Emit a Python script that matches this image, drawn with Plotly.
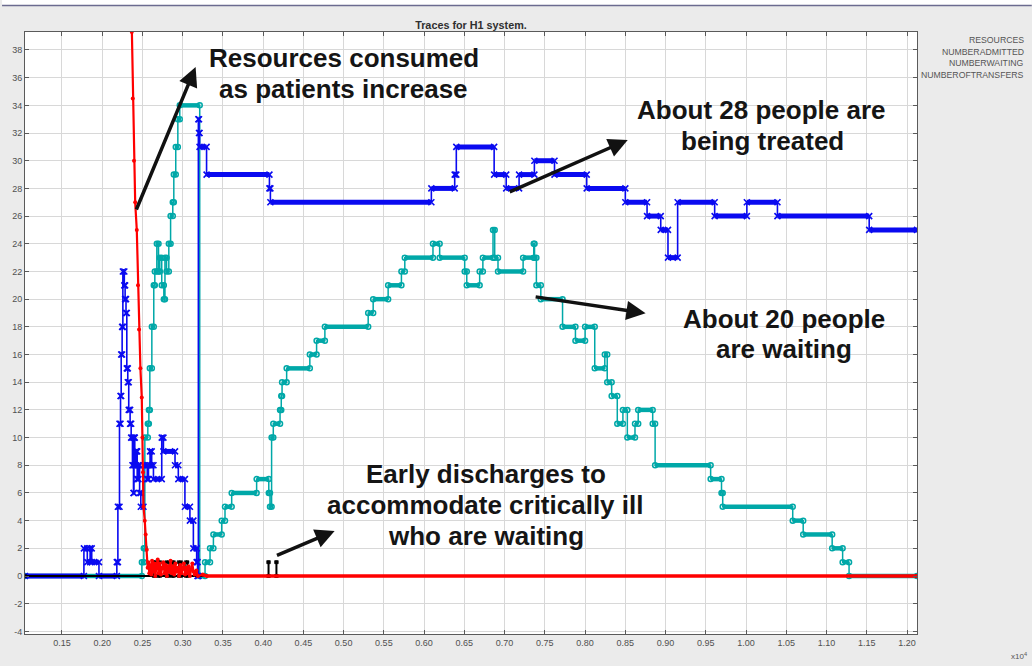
import plotly.graph_objects as go

# ---------------- data ----------------
series_names = ["RESOURCES", "NUMBERADMITTED", "NUMBERWAITING", "NUMBEROFTRANSFERS"]

# NUMBERADMITTED (blue) step series: value holds from x[i] until x[i+1]
admitted_x = [0.1041, 0.1773, 0.1815, 0.1850, 0.1870, 0.1960, 0.2182, 0.2195, 0.2215, 0.2228,
              0.2236, 0.2248, 0.2257, 0.2275, 0.2285, 0.2296, 0.2306, 0.2318, 0.2330, 0.2347,
              0.2360, 0.2376, 0.2389, 0.2395, 0.2405, 0.2420, 0.2435, 0.2450, 0.2465, 0.2480,
              0.2513, 0.2560, 0.2575, 0.2595, 0.2615, 0.2637, 0.2740, 0.2761, 0.2905, 0.2946,
              0.3028, 0.3090, 0.3133, 0.3174, 0.3185, 0.3195, 0.3203, 0.3210, 0.3297, 0.4078,
              0.4090, 0.6090, 0.6380, 0.6400, 0.6870, 0.7020, 0.7180, 0.7370, 0.7620, 0.8020,
              0.8500, 0.8770, 0.8940, 0.9030, 0.9150, 0.9610, 1.0010, 1.0390, 1.1530, 1.2124]
admitted_y = [0, 2, 1, 2, 1, 0, 1, 5, 11, 13,
              16, 18, 22, 21, 20, 19, 15, 14, 12, 11,
              10, 8, 6, 10, 8, 9, 7, 8, 6, 5,
              8, 7, 8, 9, 8, 7, 10, 9, 8, 7,
              5, 4, 2, 1, 0, 33, 32, 31, 29, 28,
              27, 28, 29, 31, 29, 28, 29, 30, 29, 28,
              27, 26, 25, 23, 27, 26, 27, 26, 25, 25]

# NUMBERWAITING (teal) step series
waiting_x = [0.1041, 0.2493, 0.2517, 0.2530, 0.2567, 0.2580, 0.2592, 0.2617, 0.2641, 0.2654,
             0.2679, 0.2700, 0.2716, 0.2740, 0.2766, 0.2780, 0.2800, 0.2828, 0.2850, 0.2877,
             0.2890, 0.2914, 0.2940, 0.2964, 0.3212, 0.3278, 0.3340, 0.3382, 0.3485, 0.3526,
             0.3609, 0.3919, 0.4070, 0.4085, 0.4105, 0.4126, 0.4210, 0.4225, 0.4235, 0.4292,
             0.4580, 0.4664, 0.4767, 0.5305, 0.5367, 0.5553, 0.5718, 0.5760, 0.6110, 0.6193,
             0.6504, 0.6530, 0.6690, 0.6730, 0.6856, 0.6877, 0.6918, 0.7230, 0.7362, 0.7372,
             0.7395, 0.7450, 0.7720, 0.7880, 0.8000, 0.8120, 0.8245, 0.8275, 0.8330, 0.8400,
             0.8470, 0.8525, 0.8620, 0.8660, 0.8840, 0.8870, 0.9560, 0.9695, 0.9710, 1.0580,
             1.0710, 1.1070, 1.1200, 1.1280, 1.2124]
waiting_y = [0, 1, 2, 10, 11, 12, 15, 18, 21, 22,
             24, 22, 23, 21, 20, 23, 22, 24, 26, 27,
             29, 31, 33, 34, 0, 1, 2, 3, 4, 5,
             6, 7, 6, 5, 10, 11, 12, 13, 14, 15,
             16, 17, 18, 19, 20, 21, 22, 23, 24, 23,
             22, 21, 22, 23, 25, 23, 22, 23, 24, 23,
             21, 20, 18, 17, 18, 15, 16, 14, 13, 11,
             12, 10, 11, 12, 11, 8, 7, 6, 5, 4,
             3, 2, 1, 0, 0]

# NUMBEROFTRANSFERS (black) step series
transfers_x = [0.1041, 0.2640, 0.2660, 0.2700, 0.2720, 0.2800, 0.2830, 0.2870, 0.2890, 0.2950,
               0.2980, 0.3040, 0.3060, 0.4062, 0.4072, 0.4160, 0.4170, 1.2124]
transfers_y = [0, 1, 0, 1, 0, 1, 0, 1, 0, 1,
               0, 1, 0, 1, 0, 1, 0, 0]

# RESOURCES (red) sampled values, joined by straight lines
resources_x = [0.2360, 0.2368, 0.2380, 0.2395, 0.2410, 0.2430, 0.2445, 0.2458, 0.2475, 0.2492,
               0.2500, 0.2507, 0.2513, 0.2529, 0.2540, 0.2554, 0.2565, 0.2575, 0.2585, 0.2595,
               0.2610, 0.2620, 0.2635, 0.2650, 0.2660, 0.2675, 0.2690, 0.2700, 0.2715, 0.2730,
               0.2745, 0.2760, 0.2775, 0.2790, 0.2805, 0.2820, 0.2835, 0.2850, 0.2865, 0.2880,
               0.2895, 0.2910, 0.2925, 0.2940, 0.2955, 0.2970, 0.2985, 0.3000, 0.3015, 0.3030,
               0.3045, 0.3060, 0.3075, 0.3090, 0.3105, 0.3120, 0.3135, 0.3150, 0.3170, 0.3190,
               0.3250, 0.3300, 1.2124]
resources_y = [42.0, 39.3, 34.5, 30.0, 27.0, 25.0, 21.0, 17.8, 15.0, 12.9,
               10.0, 7.5, 5.0, 4.0, 3.0, 1.9, 0.6, 1.0, 0.2, 0.8,
               0.1, 1.1, 0.3, 0.9, 0.0, 0.7, 1.2, 0.2, 0.9, 0.1,
               0.6, 1.0, 0.2, 0.8, 0.0, 0.7, 0.3, 1.1, 0.2, 0.7,
               0.1, 0.9, 0.3, 0.6, 0.0, 0.8, 0.2, 0.5, 0.9, 0.1,
               0.6, 0.2, 0.7, 0.0, 0.5, 0.9, 0.3, 0.1, 0.4, 0.0,
               0.1, 0.0, 0.0]

x_ticks = [0.15, 0.20, 0.25, 0.30, 0.35, 0.40, 0.45, 0.50, 0.55, 0.60, 0.65,
           0.70, 0.75, 0.80, 0.85, 0.90, 0.95, 1.00, 1.05, 1.10, 1.15, 1.20]
x_tick_labels = ["%.2f" % v for v in x_ticks]
y_ticks = [-4, -2, 0, 2, 4, 6, 8, 10, 12, 14, 16, 18, 20, 22, 24, 26, 28, 30, 32, 34, 36, 38]
y_tick_labels = [str(v) for v in y_ticks]

# ---------------- styling ----------------
BLUE = "rgb(10,10,240)"
TEAL = "rgb(0,168,168)"
RED = "rgb(255,0,0)"
BLACK = "rgb(0,0,0)"
X_RANGE = [0.1041, 1.2124]
Y_RANGE = [-4.19, 39.3]


def bands(xs, ys):
    bx, by, mx, my = [], [], [], []
    for i in range(len(xs) - 1):
        bx += [xs[i], xs[i + 1], None]
        by += [ys[i], ys[i], None]
        mx += [xs[i], xs[i + 1]]
        my += [ys[i], ys[i]]
    return bx, by, mx, my


fig = go.Figure()


def add_step_series(name, xs, ys, color, band_w, thin_w, msym, msize, mline):
    fig.add_trace(go.Scatter(x=xs, y=ys, mode="lines", line=dict(color=color, width=thin_w, shape="hv"),
                             name=name, showlegend=False, hoverinfo="skip"))
    bx, by, mx, my = bands(xs, ys)
    fig.add_trace(go.Scatter(x=bx, y=by, mode="lines", line=dict(color=color, width=band_w),
                             name=name, showlegend=False, hoverinfo="skip", connectgaps=False))
    fig.add_trace(go.Scatter(x=mx, y=my, mode="markers", name=name, showlegend=False,
                             marker=dict(symbol=msym, size=msize, color=color,
                                         line=dict(color=color, width=mline))))


add_step_series(series_names[2], waiting_x, waiting_y, TEAL, 4.5, 1.5, "circle-open", 5, 1.5)
add_step_series(series_names[1], admitted_x, admitted_y, BLUE, 5, 1.6, "x-thin-open", 6, 1.6)
add_step_series(series_names[3], transfers_x, transfers_y, BLACK, 2, 1.2, "square", 3, 0.5)

fig.add_trace(go.Scatter(x=resources_x, y=resources_y, mode="lines+markers", name=series_names[0],
                         showlegend=False, line=dict(color=RED, width=2.2),
                         marker=dict(symbol="circle", size=4, color=RED)))
fig.add_trace(go.Scatter(x=resources_x[-3:], y=resources_y[-3:], mode="lines", showlegend=False,
                         line=dict(color=RED, width=3.5), hoverinfo="skip"))

axis_common = dict(showgrid=True, gridcolor="#d8d8d8", gridwidth=1, zeroline=False, showline=True,
                   linecolor="#5a5a5a", linewidth=1, mirror="ticks", ticks="inside", ticklen=4,
                   tickcolor="#5a5a5a", tickfont=dict(family="Arial, Liberation Sans", size=9, color="#505050"))

fig.update_layout(
    width=1032, height=666,
    margin=dict(l=23, r=115, t=32, b=32),
    paper_bgcolor="#ebebeb", plot_bgcolor="white",
    showlegend=False,
    title=dict(text="<b>Traces for H1 system.</b>", x=0.5, xref="paper", xanchor="center",
               y=1 - 25 / 666, yref="container", yanchor="middle",
               font=dict(family="Arial, Liberation Sans", size=10.8, color="#303030")),
    xaxis=dict(range=X_RANGE, tickvals=x_ticks, ticktext=x_tick_labels, **axis_common),
    yaxis=dict(range=Y_RANGE, tickvals=y_ticks, ticktext=y_tick_labels, **axis_common),
)

# legend-like labels (text only, right aligned)
for nm, py in zip(series_names, [40, 51.7, 63.3, 74.5]):
    fig.add_annotation(text=nm, xref="paper", yref="paper", x=(1026 - 23) / 894, y=(634 - py) / 602,
                       xanchor="right", yanchor="middle", showarrow=False,
                       font=dict(family="Arial, Liberation Sans", size=8.7, color="#555555"))

fig.add_annotation(text="x10<sup>4</sup>", xref="paper", yref="paper", x=(1029 - 23) / 894, y=(634 - 656) / 602,
                   xanchor="right", yanchor="middle", showarrow=False,
                   font=dict(family="Arial, Liberation Sans", size=8, color="#555555"))

# callout texts
BIG = dict(family="Arial, Liberation Sans", size=26, color="#151515")
callouts = [
    ("<b>Resources consumed</b>", 0.5002, 37.42),
    ("<b>as patients increase</b>", 0.4996, 35.18),
    ("<b>About 28 people are</b>", 1.0196, 33.67),
    ("<b>being treated</b>", 1.0202, 31.43),
    ("<b>About 20 people</b>", 1.0475, 18.57),
    ("<b>are waiting</b>", 1.0475, 16.40),
    ("<b>Early discharges to</b>", 0.6768, 7.37),
    ("<b>accommodate critically ill</b>", 0.6756, 5.13),
    ("<b>who are waiting</b>", 0.6768, 2.89),
]
for txt, cx, cy in callouts:
    fig.add_annotation(text=txt, x=cx, y=cy, xref="x", yref="y", showarrow=False,
                       xanchor="center", yanchor="middle", font=BIG)

# arrows: (tail_x, tail_y, head_x, head_y) in data units
arrows = [
    (0.2417, 26.37, 0.3161, 36.77),
    (0.7045, 27.70, 0.8530, 31.50),
    (0.7367, 20.18, 0.8752, 18.98),
    (0.4153, 1.45, 0.4888, 3.25),
]
for tx, ty, hx, hy in arrows:
    fig.add_annotation(x=hx, y=hy, ax=tx, ay=ty, xref="x", yref="y", axref="x", ayref="y",
                       text="", showarrow=True, arrowhead=2, arrowsize=1.1, arrowwidth=3.5,
                       arrowcolor="#111111", standoff=0, startstandoff=0)

# thin window frame line at top
fig.add_shape(type="rect", xref="paper", yref="paper", x0=-23 / 894, x1=(1032 - 23) / 894,
              y0=1 + 27 / 602, y1=1 + 32 / 602, fillcolor="white", line=dict(width=0), layer="below")
fig.add_shape(type="line", xref="paper", yref="paper", x0=-23 / 894, x1=(1032 - 23) / 894,
              y0=1 + 26.5 / 602, y1=1 + 26.5 / 602, line=dict(color="#6b6b8f", width=1.5))

fig.write_html(
    "out.html",
    config={"displayModeBar": False},
    post_script="document.body.style.margin='0';document.body.style.overflow='hidden';"
                "document.body.style.background='#ebebeb';",
)
